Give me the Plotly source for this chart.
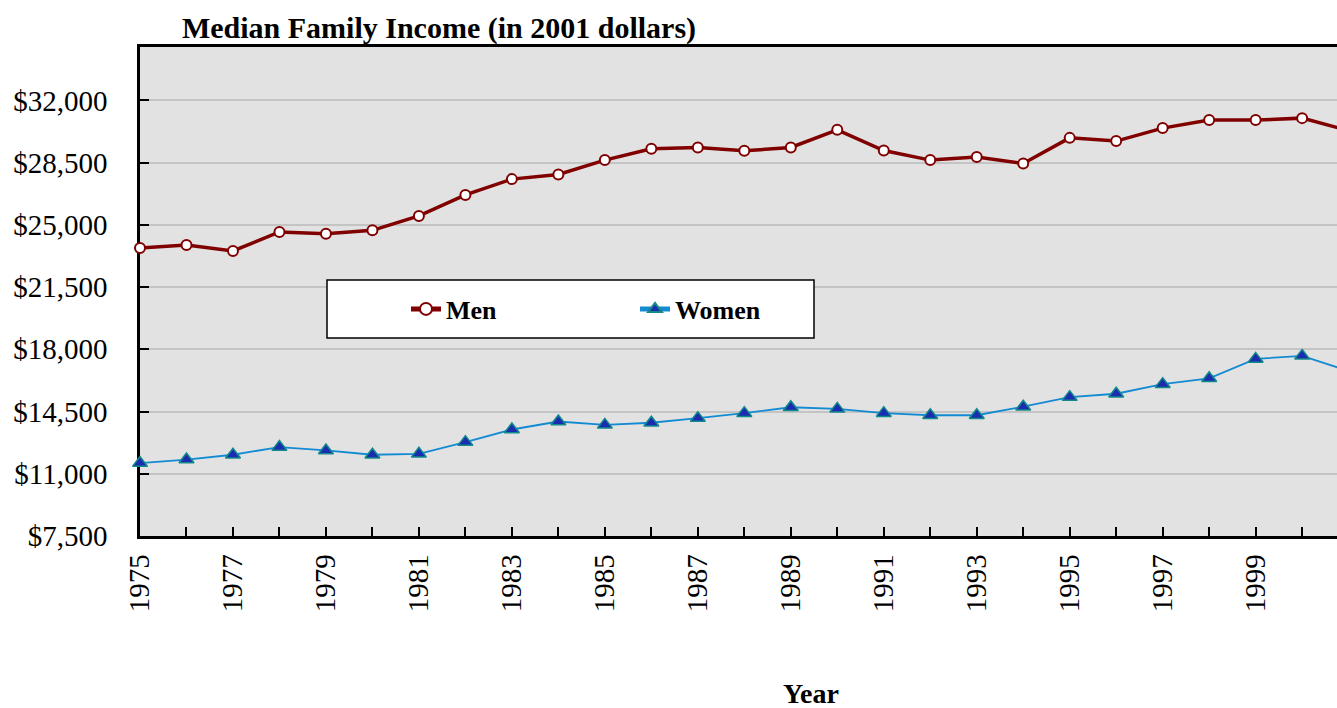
import plotly.graph_objects as go

years = list(range(1975, 2002))
men = [23700, 23870, 23530, 24600, 24500, 24690, 25500, 26680, 27570, 27830,
       28640, 29280, 29350, 29160, 29350, 30340, 29180, 28640, 28810, 28450,
       29890, 29710, 30440, 30890, 30890, 31000, 30300]
women = [11600, 11800, 12070, 12500, 12310, 12070, 12120, 12780, 13490, 13940,
         13750, 13870, 14130, 14410, 14740, 14650, 14410, 14290, 14290, 14770,
         15310, 15500, 16040, 16370, 17460, 17630, 16780]
y_ticks = [7500, 11000, 14500, 18000, 21500, 25000, 28500, 32000]
x_ticks = list(range(1975, 2000, 2))

serif = "Liberation Serif, Times New Roman, serif"

W, H = 1337, 708
L, T = 140, 47
B = H - 536
pw = W - L
ph = H - T - B

def px(x):
    return (x - L) / pw

def py(y):
    return 1 - (y - T) / ph

fig = go.Figure()
fig.add_trace(go.Scatter(
    x=years, y=men, name="<b>Men</b>", mode="lines+markers",
    line=dict(color="#800000", width=3.5),
    marker=dict(symbol="circle", size=10, color="white",
                line=dict(color="#800000", width=2)),
    cliponaxis=False, legend="legend"))
fig.add_trace(go.Scatter(
    x=years, y=women, name="<b>Women</b>", mode="lines+markers",
    line=dict(color="#138BD3", width=1.8),
    marker=dict(symbol="triangle-up", size=13, color="#1A2DB0",
                line=dict(color="#138A8A", width=1.5)),
    cliponaxis=False, legend="legend2"))

fig.add_shape(type="rect", xref="paper", yref="paper",
              x0=px(327), x1=px(814), y0=py(338), y1=py(280),
              fillcolor="white", line=dict(color="black", width=1.5),
              layer="above")

fig.update_layout(
    width=W, height=H,
    margin=dict(l=L, r=0, t=T, b=B),
    paper_bgcolor="white",
    plot_bgcolor="#E2E2E2",
    font=dict(family=serif, color="black"),
    title=dict(text="<b>Median Family Income (in 2001 dollars)</b>",
               x=439 / W, xanchor="center", xref="container",
               y=1 - 27 / H, yanchor="middle", yref="container",
               font=dict(size=30, family=serif, color="black")),
    showlegend=True,
    legend=dict(x=px(406), y=py(309), xanchor="left", yanchor="middle",
                bgcolor="rgba(0,0,0,0)", borderwidth=0,
                font=dict(size=26, family=serif, color="black"),
                itemsizing="constant"),
    legend2=dict(x=px(635), y=py(309), xanchor="left", yanchor="middle",
                 bgcolor="rgba(0,0,0,0)", borderwidth=0,
                 font=dict(size=26, family=serif, color="black"),
                 itemsizing="constant"),
    xaxis=dict(range=[1975, 2000.75], tickmode="array", tickvals=x_ticks,
               ticktext=[str(v) for v in x_ticks],
               tickangle=-90, ticks="inside", ticklen=9, tickwidth=1.5,
               tickcolor="black",
               minor=dict(dtick=1, tick0=1975, ticks="inside", ticklen=9,
                          tickwidth=1.5, tickcolor="black", showgrid=False),
               showgrid=False, zeroline=False,
               showline=True, linecolor="black", linewidth=2.5, mirror=True,
               tickfont=dict(size=29, family=serif, color="black"),
               ticklabelstandoff=4, layer="below traces"),
    yaxis=dict(range=[7500, 35000], tickmode="array", tickvals=y_ticks,
               ticktext=["${:,}".format(v) for v in y_ticks],
               ticks="inside", ticklen=9, tickwidth=1.5, tickcolor="black",
               showgrid=True, gridcolor="#C4C4C4", gridwidth=1.5,
               zeroline=False, showline=True, linecolor="black", linewidth=2.5,
               mirror=False,
               tickfont=dict(size=29, family=serif, color="black"),
               ticklabelstandoff=24, layer="below traces"),
    annotations=[dict(text="<b>Year</b>", xref="paper", yref="paper",
                      x=px(811), y=py(693), xanchor="center", yanchor="middle",
                      showarrow=False,
                      font=dict(size=28, family=serif, color="black"))],
)

fig.write_html("out.html", config={"displayModeBar": False},
               post_script="document.body.style.margin='0px';"
                           "document.body.style.overflow='hidden';")
